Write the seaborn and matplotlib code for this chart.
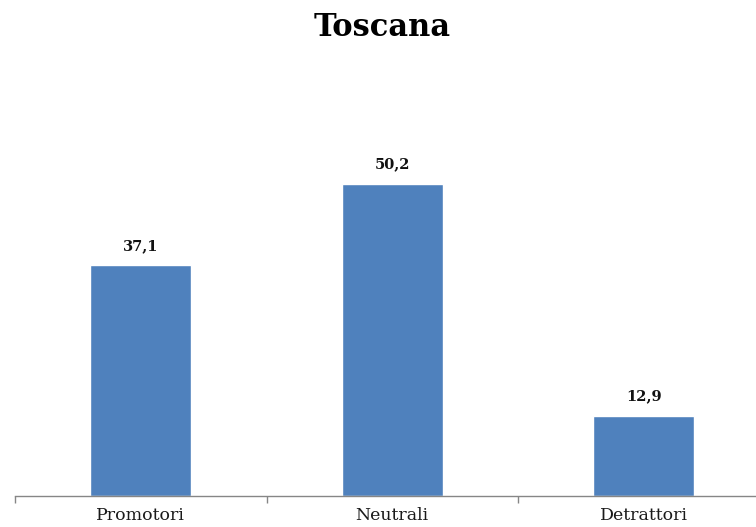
import matplotlib
matplotlib.use("Agg")
import matplotlib.pyplot as plt
from matplotlib.ticker import FixedLocator
import seaborn as sns
import pandas as pd

categories = ["Promotori", "Neutrali", "Detrattori"]
values = [37.1, 50.2, 12.9]
value_labels = ["37,1", "50,2", "12,9"]

sns.set_theme(style="white")
plt.rcParams["font.family"] = ["DejaVu Serif"]

df = pd.DataFrame({"categoria": categories, "valore": values})

fig = plt.figure(figsize=(7.56, 5.27), dpi=100)
ax = fig.add_axes([15 / 756, 31 / 527, 754.5 / 756, 0.7076])

sns.barplot(data=df, x="categoria", y="valore", color="#4F81BD",
            saturation=1, width=0.4, ax=ax)

ax.set_ylim(0, 60)
ax.set_xlim(-0.5, 2.5)
ax.set_xlabel("")
ax.set_ylabel("")
ax.set_yticks([])

for side in ["top", "right", "left"]:
    ax.spines[side].set_visible(False)
ax.spines["bottom"].set_color("#868686")
ax.spines["bottom"].set_linewidth(1.0)

ax.tick_params(axis="x", which="major", length=0, pad=8,
               labelsize=12.5, labelcolor="#1a1a1a")
ax.xaxis.set_minor_locator(FixedLocator([-0.5, 0.5, 1.5, 2.5]))
ax.tick_params(axis="x", which="minor", bottom=True, length=5, width=1,
               color="#868686", direction="out")

for bar, lab in zip(ax.patches, value_labels):
    ax.annotate(lab, (bar.get_x() + bar.get_width() / 2, bar.get_height()),
                xytext=(0, 9), textcoords="offset points",
                ha="center", va="bottom", fontsize=10.5,
                fontweight="bold", color="#111111")

fig.text(382 / 756, 1 - 27 / 527, "Toscana", ha="center", va="center",
         fontsize=22, fontweight="bold", color="black")

fig.savefig("out.png", dpi=100)
